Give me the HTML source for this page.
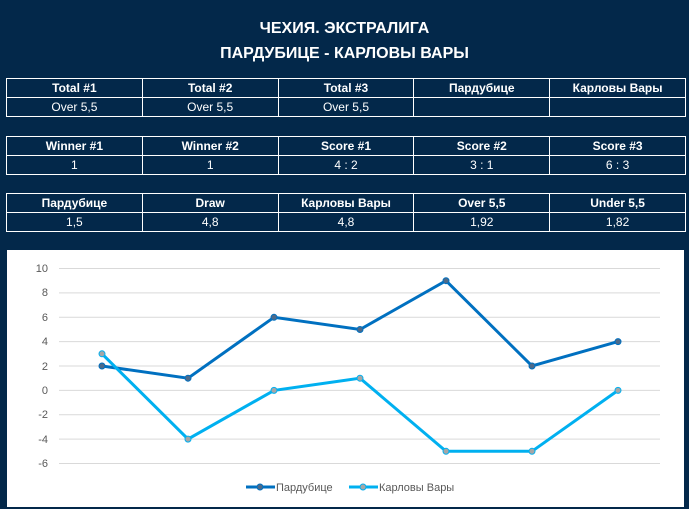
<!DOCTYPE html><html><head><meta charset="utf-8"><style>
body{margin:0;width:689px;height:509px;background:#03284a;font-family:"Liberation Sans","DejaVu Sans",sans-serif;position:relative;overflow:hidden}
.t{position:absolute;left:0;width:689px;text-align:center;color:#fff;font-weight:bold;font-size:16px}
table{position:absolute;left:6px;width:680px;border-collapse:collapse;table-layout:fixed}
td{border:1.5px solid #fff;color:#fff;font-size:12px;text-align:center;height:18px;padding:0}
tr:first-child td{font-weight:bold}
</style></head><body>
<div class="t" style="top:20px">ЧЕХИЯ. ЭКСТРАЛИГА</div>
<div class="t" style="top:45px">ПАРДУБИЦЕ - КАРЛОВЫ ВАРЫ</div>
<table style="top:78px"><tr><td>Total #1</td><td>Total #2</td><td>Total #3</td><td>Пардубице</td><td>Карловы Вары</td></tr><tr><td>Over 5,5</td><td>Over 5,5</td><td>Over 5,5</td><td></td><td></td></tr></table>
<table style="top:136px"><tr><td>Winner #1</td><td>Winner #2</td><td>Score #1</td><td>Score #2</td><td>Score #3</td></tr><tr><td>1</td><td>1</td><td>4 : 2</td><td>3 : 1</td><td>6 : 3</td></tr></table>
<table style="top:193px"><tr><td>Пардубице</td><td>Draw</td><td>Карловы Вары</td><td>Over 5,5</td><td>Under 5,5</td></tr><tr><td>1,5</td><td>4,8</td><td>4,8</td><td>1,92</td><td>1,82</td></tr></table>
<svg style="position:absolute;left:0;top:0" width="689" height="509">
<rect x="7" y="250" width="677" height="257" fill="#fff"/>
<g stroke="#d9d9d9" stroke-width="1">
<line x1="59" x2="660" y1="268.5" y2="268.5"/><line x1="59" x2="660" y1="292.9" y2="292.9"/><line x1="59" x2="660" y1="317.3" y2="317.3"/><line x1="59" x2="660" y1="341.6" y2="341.6"/><line x1="59" x2="660" y1="366" y2="366"/><line x1="59" x2="660" y1="390.4" y2="390.4"/><line x1="59" x2="660" y1="414.8" y2="414.8"/><line x1="59" x2="660" y1="439.1" y2="439.1"/><line x1="59" x2="660" y1="463.5" y2="463.5"/>
</g>
<g font-size="11" fill="#595959" text-anchor="end">
<text x="48" y="272">10</text><text x="48" y="296">8</text><text x="48" y="321">6</text><text x="48" y="345">4</text><text x="48" y="370">2</text><text x="48" y="394">0</text><text x="48" y="418">-2</text><text x="48" y="443">-4</text><text x="48" y="467">-6</text>
</g>
<polyline fill="none" stroke="#0070c0" stroke-width="3" points="102,366 188,378.2 274,317.3 360,329.5 446,280.7 532,366 618,341.6"/>
<polyline fill="none" stroke="#00b0f0" stroke-width="3" points="102,353.8 188,439.1 274,390.4 360,378.2 446,451.3 532,451.3 618,390.4"/>
<g fill="#4d6a8a" stroke="#0070c0"><circle cx="102" cy="366" r="3"/><circle cx="188" cy="378.2" r="3"/><circle cx="274" cy="317.3" r="3"/><circle cx="360" cy="329.5" r="3"/><circle cx="446" cy="280.7" r="3"/><circle cx="532" cy="366" r="3"/><circle cx="618" cy="341.6" r="3"/></g>
<g fill="#a6a6a6" stroke="#00b0f0"><circle cx="102" cy="353.8" r="3"/><circle cx="188" cy="439.1" r="3"/><circle cx="274" cy="390.4" r="3"/><circle cx="360" cy="378.2" r="3"/><circle cx="446" cy="451.3" r="3"/><circle cx="532" cy="451.3" r="3"/><circle cx="618" cy="390.4" r="3"/></g>
<line x1="246" x2="275" y1="487" y2="487" stroke="#0070c0" stroke-width="3"/><circle cx="260" cy="487" r="3" fill="#4d6a8a" stroke="#0070c0"/>
<text x="276" y="491" font-size="11" fill="#595959">Пардубице</text>
<line x1="349" x2="378" y1="487" y2="487" stroke="#00b0f0" stroke-width="3"/><circle cx="363" cy="487" r="3" fill="#a6a6a6" stroke="#00b0f0"/>
<text x="379" y="491" font-size="11" fill="#595959">Карловы Вары</text>
</svg>
</body></html>
